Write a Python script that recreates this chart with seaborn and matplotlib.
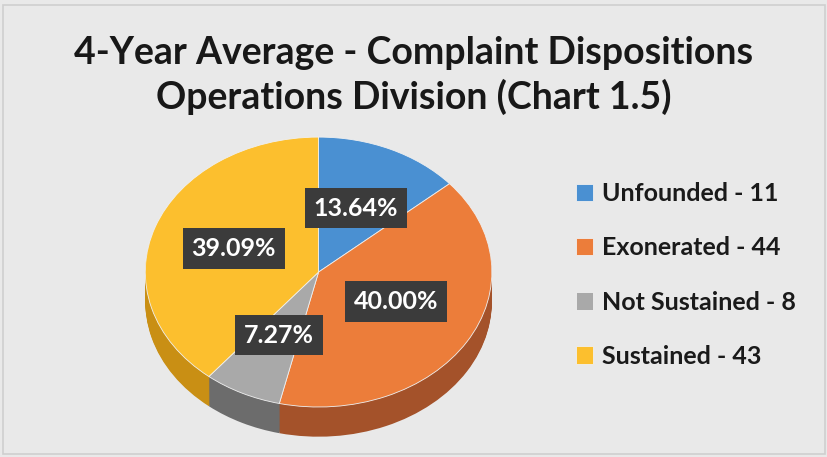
import numpy as np
import seaborn as sns
import matplotlib.pyplot as plt
from matplotlib.patches import Rectangle

# data
categories = ["Unfounded", "Exonerated", "Not Sustained", "Sustained"]
counts = [11, 44, 8, 43]
percents = [13.64, 40.00, 7.27, 39.09]

top_colors = ["#4a90d2", "#ec7d3a", "#a9a9a9", "#fcbf2e"]
side_colors = ["#2f6a9e", "#a4522a", "#6c6c6c", "#c98f14"]

sns.set_theme(style="white")
plt.rcParams['font.family'] = ['Lato', 'DejaVu Sans']

fig = plt.figure(figsize=(8.28, 4.57), dpi=100)
fig.patch.set_facecolor("#e9e9e9")
fig.patches.append(Rectangle((0.004, 0.006), 0.992, 0.982, transform=fig.transFigure,
                             fill=False, ec="#cfcfcf", lw=1.2))

fig.text(0.5, 0.835, "4-Year Average - Complaint Dispositions\nOperations Division (Chart 1.5)",
         ha="center", va="center", fontsize=27, fontweight="bold", color="#181818",
         linespacing=1.3)

ax = fig.add_axes([0.1755, 0.0208, 0.4227, 0.694])
depth = 0.22
n_layers = 30
# side of the 3D pie: stacked darker pies
for i in range(n_layers, 0, -1):
    ax.pie(percents, colors=side_colors, startangle=90, counterclock=False,
           center=(0, -depth * i / n_layers), wedgeprops=dict(linewidth=0))

wedges, _, autotexts = ax.pie(
    percents, colors=top_colors, startangle=90, counterclock=False,
    autopct="%.2f%%", pctdistance=0.52,
    wedgeprops=dict(linewidth=0.6, edgecolor="#f0f0f0"),
    textprops=dict(color="white", fontsize=18, fontweight="bold"))
for t in autotexts:
    t.set_bbox(dict(boxstyle="square,pad=0.35", fc="#3b3b3b", ec="none"))
autotexts[1].set_y(autotexts[1].get_position()[1] + 0.05)

ax.set_aspect("auto")
ax.set_xlim(-1.0, 1.02)
ax.set_ylim(-1.3, 1.05)
ax.axis("off")

labels = [f"{c} - {n}" for c, n in zip(categories, counts)]
fig.legend(wedges, labels, loc="center left", bbox_to_anchor=(0.668, 0.398),
           frameon=False, prop=dict(weight="bold", size=18),
           handlelength=0.7, handleheight=0.7, handletextpad=0.35,
           labelspacing=1.25, labelcolor="#1a1a1a")

fig.savefig("out.png", dpi=100, facecolor=fig.get_facecolor())
